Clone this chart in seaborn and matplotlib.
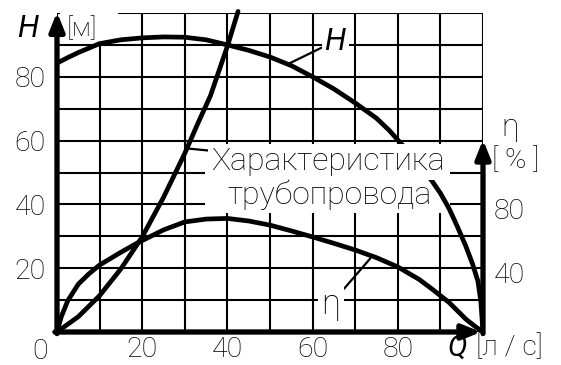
import pandas as pd
import matplotlib
matplotlib.use('Agg')
import matplotlib.pyplot as plt
import seaborn as sns
from matplotlib.patches import Rectangle

# pump head curve H(Q)
q_pump = [0, 2.5, 5, 10, 15, 20, 25, 30, 35, 40, 45, 50, 55, 60, 65, 70, 75, 78, 80, 83, 85, 88, 90, 92, 94, 96, 97.5, 98.8, 99.5, 100]
h_pump = [84.3, 86.0, 87.6, 90.4, 91.6, 92.2, 92.5, 92.4, 91.6, 90.0, 88.3, 86.2, 83.5, 80.0, 76.2, 71.8, 67.0, 63.2, 60.2, 55.8, 52.6, 47.4, 43.5, 38.8, 33.0, 26.8, 21.5, 16.0, 9.5, 0]

# pipeline characteristic
q_pipe = [0, 5, 10, 15, 20, 25, 30, 33, 36, 40, 42.5]
h_pipe = [0, 4.8, 11.4, 19.8, 29.8, 42.2, 56.0, 65.2, 74.0, 89.6, 100.5]

# efficiency curve, percent
q_eff = [0, 1, 2.5, 5, 7.5, 10, 15, 19, 25, 30, 35, 40, 45, 50, 55, 60, 65, 70, 75, 80, 85, 88, 92, 96, 98, 100]
eff = [0, 9.5, 19.5, 30, 36.5, 42, 50, 56, 64, 69, 70.8, 71.2, 69.6, 67, 63.4, 59.6, 55.6, 51.4, 46.6, 40.8, 33.0, 27.0, 18.6, 8.0, 3.8, 0]

q_ticks = [20, 40, 60, 80]
h_ticks = [20, 40, 60, 80]
eff_ticks = [40, 80]

pump = pd.DataFrame({'Q': q_pump, 'H': h_pump})
pipe = pd.DataFrame({'Q': q_pipe, 'H': h_pipe})
eta = pd.DataFrame({'Q': q_eff, 'eta': eff})

sns.set_style('white')
plt.rcParams['font.family'] = ['Roboto', 'DejaVu Sans']
plt.rcParams['font.weight'] = 'light'
plt.rcParams['text.color'] = 'black'

fs = 20.5

W, Hh = 561, 365
fig = plt.figure(figsize=(W / 100, Hh / 100), dpi=100)
ax = fig.add_axes([57 / W, 33 / Hh, 426 / W, 319 / Hh])
ax.set_xlim(0, 100)
ax.set_ylim(0, 100)
ax.set_xticks(q_ticks)
ax.set_xticks(range(0, 101, 10), minor=True)
ax.set_yticks(h_ticks)
ax.set_yticks(range(0, 101, 10), minor=True)
ax.set_axisbelow(True)
ax.grid(which='both', color='black', lw=1.5)
ax.tick_params(which='both', length=0, labelsize=fs, labelcolor='black')
ax.tick_params(axis='x', pad=3)
ax.tick_params(axis='y', pad=8)
for s in ax.spines.values():
    s.set_visible(False)

# white areas that break the grid under the labels
ax.add_patch(Rectangle((0.6, 90.8), 13.7, 10.5, fc='white', ec='none', zorder=1, clip_on=False))
ax.add_patch(Rectangle((34.7, 37.3), 57.6, 21.3, fc='white', ec='none', zorder=1))

lw = 3.4
sns.lineplot(data=pump, x='Q', y='H', ax=ax, color='black', lw=lw, sort=False, zorder=3)
sns.lineplot(data=pipe, x='Q', y='H', ax=ax, color='black', lw=lw, sort=False, zorder=3, clip_on=False)
ax.set_xlabel('')
ax.set_ylabel('')

ax2 = ax.twinx()
ax2.set_ylim(0, 200)
sns.lineplot(data=eta, x='Q', y='eta', ax=ax2, color='black', lw=lw, sort=False, zorder=3)
ax2.set_yticks([])
ax2.set_ylabel('')
ax2.set_xlabel('')
for s in ax2.spines.values():
    s.set_visible(False)
for t in eff_ticks:
    ax2.annotate(str(t), xy=(1, t), xycoords=ax2.get_yaxis_transform(), xytext=(11, -7),
                 textcoords='offset pixels', ha='left', va='center', fontsize=fs)

# axes with arrows
arrow = dict(arrowstyle='-|>,head_length=0.55,head_width=0.22', lw=3.8, color='black',
             shrinkA=0, shrinkB=0, mutation_scale=20)
ax2.annotate('', xy=(0, 200.6), xytext=(0, -1), arrowprops=arrow, annotation_clip=False)
ax2.annotate('', xy=(99.6, 0), xytext=(-0.5, 0), arrowprops=arrow, annotation_clip=False)
ax2.annotate('', xy=(100, 120.6), xytext=(100, -1), arrowprops=arrow, annotation_clip=False)

# axis titles
ax.text(-6.8, 95, 'H', style='italic', fontweight='normal', fontsize=22,
        ha='center', va='center', clip_on=False)
ax.text(2.3, 95, '[м]', fontsize=19, ha='left', va='center', zorder=4)
ax.text(-4, -6.0, '0', fontsize=fs, ha='center', va='center', clip_on=False)
ax.text(94.0, -5, 'Q', style='italic', fontweight='normal', fontsize=21,
        ha='center', va='center', clip_on=False)
ax.text(98.3, -5, '[л / с]', fontsize=fs, ha='left', va='center', clip_on=False)
ax.text(106.3, 64.0, 'η', fontsize=23, ha='center', va='center', clip_on=False)
ax.text(102.2, 53.6, '[ % ]', fontsize=fs, ha='left', va='center', clip_on=False)

# curve labels
box = dict(boxstyle='square,pad=0.1', fc='white', ec='none')
ax.annotate('H', xy=(54.7, 84.3), xytext=(65.3, 91.2), style='italic', fontweight='normal',
            fontsize=22, ha='center', va='center', bbox=box, zorder=4,
            arrowprops=dict(arrowstyle='-', lw=1.6, color='black', shrinkA=0, shrinkB=0))
ax2.annotate('η', xy=(73.5, 46), xytext=(64.3, 17.6), fontsize=25,
             ha='center', va='center', bbox=box, zorder=4,
             arrowprops=dict(arrowstyle='-', lw=1.6, color='black', shrinkA=0, shrinkB=0))
ax.annotate('Характеристика', xy=(30.8, 57.5), xytext=(63.6, 53.3), fontsize=23,
            ha='center', va='center', bbox=box, zorder=4,
            arrowprops=dict(arrowstyle='-', lw=1.6, color='black', shrinkA=0, shrinkB=0))
ax.text(64.1, 42.9, 'трубопровода', fontsize=23, ha='center', va='center', zorder=4)

fig.savefig('out.png', dpi=100)
